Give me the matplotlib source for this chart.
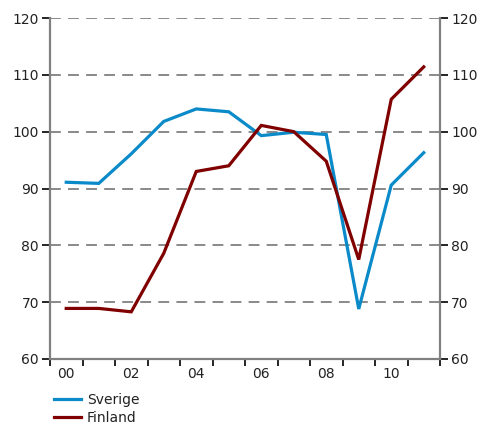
import matplotlib
matplotlib.use("Agg")
import matplotlib.pyplot as plt
import numpy as np

years = [2000, 2001, 2002, 2003, 2004, 2005, 2006, 2007, 2008, 2009, 2010, 2011]
sverige = [91.1, 90.9, 96.1, 101.8, 104.0, 103.5, 99.3, 99.9, 99.5, 68.8, 90.6, 96.3]
finland = [68.9, 68.9, 68.3, 78.6, 93.0, 94.0, 101.1, 100.0, 94.8, 77.5, 105.7, 111.4]
year_labels = ["00", "02", "04", "06", "08", "10"]
y_ticks = [60, 70, 80, 90, 100, 110, 120]

blue = "#0a8ac8"
red = "#800000"
grey = "#808080"

fig = plt.figure(figsize=(4.81, 4.25), dpi=100)
ax = fig.add_axes([50 / 481, 66 / 425, 390 / 481, 341 / 425])

x = np.arange(len(years))
ax.plot(x, sverige, color=blue, lw=2.3, label="Sverige", solid_joinstyle="miter")
ax.plot(x, finland, color=red, lw=2.3, label="Finland", solid_joinstyle="miter")

ax.set_xlim(-0.5, len(years) - 0.5)
ax.set_ylim(60, 120)

# y axis on both sides
ax.set_yticks(y_ticks)
ax.tick_params(axis="y", which="both", direction="out", length=6, width=1.2,
               color="black", labelsize=10, labelcolor="#222222", pad=2,
               left=True, right=True, labelleft=True, labelright=True)

# x ticks at interval boundaries, labels every other year
ax.set_xticks(np.arange(-0.5, len(years)), minor=True)
ax.set_xticks(x[::2])
ax.set_xticklabels(year_labels)
ax.tick_params(axis="x", which="minor", direction="out", length=5, width=1.2, color="black")
ax.tick_params(axis="x", which="major", length=0, labelsize=10, labelcolor="#222222", pad=6)

for yv in y_ticks[1:]:
    ax.axhline(yv, color=grey, lw=1.3, dashes=(6, 4), zorder=0)

for side in ["left", "right", "bottom"]:
    ax.spines[side].set_color(grey)
    ax.spines[side].set_linewidth(1.6)
ax.spines["top"].set_visible(False)

leg = fig.legend(loc="lower left", bbox_to_anchor=(46 / 481, -0.02), frameon=False,
                 fontsize=10, handlelength=1.9, handletextpad=0.45,
                 labelspacing=0.3, borderaxespad=0.2)
for t in leg.get_texts():
    t.set_color("#222222")

fig.savefig("out.png", dpi=100)
